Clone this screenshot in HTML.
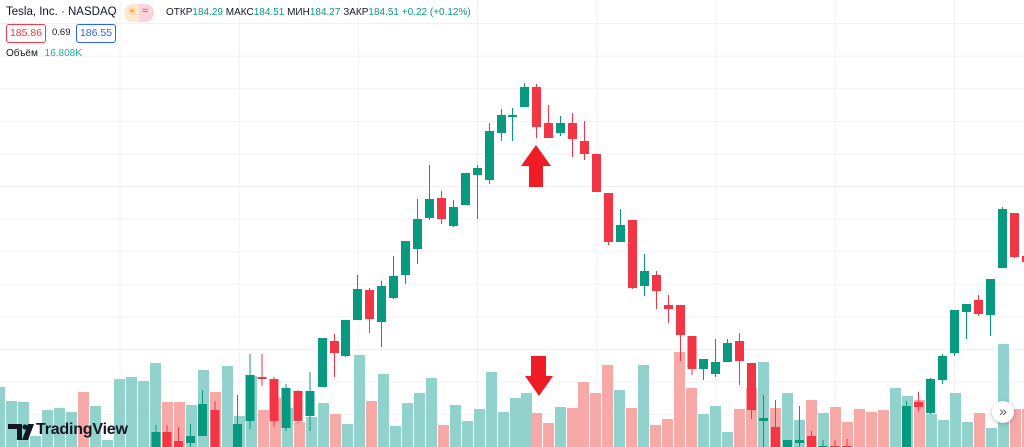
<!DOCTYPE html>
<html><head><meta charset="utf-8"><style>
html,body{margin:0;padding:0;background:#fff;width:1024px;height:447px;overflow:hidden;font-family:"Liberation Sans",sans-serif;}
#wrap{position:relative;width:1024px;height:447px;}
svg{position:absolute;left:0;top:0;}
.t{position:absolute;white-space:nowrap;}
</style></head><body><div id="wrap">
<svg id="c" width="1024" height="447" xmlns="http://www.w3.org/2000/svg"></svg>
<div class="t" style="left:6px;top:6px;font-size:11.5px;color:#131722;">Tesla, Inc. · NASDAQ</div>
<div class="t" style="left:124px;top:4px;width:30px;height:18px;border-radius:9px;background:#fde8d2;overflow:hidden;">
 <div style="position:absolute;left:15px;top:0;width:15px;height:18px;background:#fbd3dc;"></div>
 <div style="position:absolute;left:3px;top:1px;font-size:11px;color:#f5a623;">☀</div>
 <div style="position:absolute;left:18px;top:1px;font-size:11px;color:#e0447a;">≈</div>
</div>
<div class="t" style="left:166px;top:7px;font-size:10px;color:#131722;">ОТКР<span style="color:#089981">184.29</span> МАКС<span style="color:#089981">184.51</span> МИН<span style="color:#089981">184.27</span> ЗАКР<span style="color:#089981">184.51</span> <span style="color:#089981">+0.22 (+0.12%)</span></div>
<div class="t" style="left:6px;top:24px;width:38px;height:17px;border:1px solid #f23645;border-radius:3px;color:#f23645;font-size:10.5px;line-height:17px;text-align:center;">185.86</div>
<div class="t" style="left:52px;top:27px;font-size:9.5px;color:#131722;">0.69</div>
<div class="t" style="left:76px;top:24px;width:38px;height:17px;border:1px solid #2962ff;border-radius:3px;color:#2962ff;font-size:10.5px;line-height:17px;text-align:center;">186.55</div>
<div class="t" style="left:6px;top:48px;font-size:10px;color:#131722;">Объём <span style="color:#22ab94;margin-left:4px">16.808K</span></div>
<div class="t" style="left:36px;top:421px;font-size:16px;font-weight:bold;color:#131722;letter-spacing:-0.2px;">TradingView</div>
<div class="t" style="left:992px;top:401px;width:22px;height:22px;border-radius:11px;background:#fff;box-shadow:0 1px 4px rgba(0,0,0,0.25);font-size:14px;line-height:20px;text-align:center;color:#555;">»</div>
</div>
<script>
var s='';
for(var y=23.5;y<447;y+=32.6)s+='<line x1="0" x2="1024" y1="'+y.toFixed(1)+'" y2="'+y.toFixed(1)+'" stroke="#f0f1f3" stroke-width="1"/>';
for(var x=120;x<1024;x+=119.2)s+='<line y1="0" y2="447" x1="'+x.toFixed(1)+'" x2="'+x.toFixed(1)+'" stroke="#f0f1f3" stroke-width="1"/>';
var V=[[-6,387,'g'],[6,401,'g'],[18,402,'g'],[30,436,'g'],[42,410,'g'],[54,408,'g'],[66,412,'g'],[78,392,'r'],[90,406,'g'],[102,440,'g'],[114,379,'g'],[126,377,'g'],[138,381,'g'],[150,363,'g'],[162,402,'r'],[174,402,'r'],[186,405,'g'],[198,370,'g'],[210,392,'r'],[222,366,'g'],[234,416,'g'],[246,376,'g'],[258,410,'r'],[270,398,'r'],[282,408,'g'],[294,422,'r'],[306,417,'g'],[318,403,'g'],[330,414,'r'],[342,424,'g'],[354,355,'g'],[366,401,'r'],[378,374,'g'],[390,426,'g'],[402,403,'g'],[414,393,'g'],[426,378,'g'],[438,425,'r'],[450,405,'g'],[462,421,'g'],[474,409,'g'],[486,372,'g'],[498,412,'g'],[510,398,'g'],[521,393,'g'],[531,413,'r'],[543,423,'r'],[555,407,'g'],[567,408,'r'],[578,382,'r'],[590,393,'r'],[602,365,'r'],[614,390,'g'],[626,408,'r'],[638,365,'g'],[650,425,'r'],[662,419,'r'],[674,352,'r'],[686,388,'r'],[698,414,'g'],[710,406,'g'],[722,432,'g'],[734,409,'r'],[746,388,'r'],[758,362,'g'],[770,408,'r'],[782,393,'g'],[794,420,'g'],[806,400,'r'],[818,413,'g'],[830,407,'r'],[842,422,'r'],[854,409,'r'],[866,412,'r'],[878,410,'r'],[890,388,'g'],[902,396,'g'],[914,400,'r'],[926,414,'g'],[938,420,'g'],[950,393,'g'],[962,422,'g'],[974,413,'r'],[986,428,'g'],[998,344,'g'],[1010,409,'r'],[1022,409,'r']];
V.forEach(function(v){s+='<rect x="'+v[0]+'" y="'+v[1]+'" width="11" height="'+(447-v[1])+'" fill="'+(v[2]=='g'?'#92d2cc':'#f7a9a7')+'"/>';});
var C=[[156,432,447,425,447,'g'],[167,432,447,425,447,'r'],[178.5,441,447,427,447,'r'],[190.5,436,443,424,447,'g'],[202.5,404,436,390,436,'g'],[215,410,447,401,447,'r'],[237.5,424,447,395,447,'g'],[250,375,421,354,429,'g'],[262,377,379,354,386,'r'],[274,379,421,377,427,'r'],[286,388,428,384,431,'g'],[298,391,421,390,423,'r'],[310,391,416,372,431,'g'],[322.5,338,387,338,387,'g'],[334.5,341,353,334,377,'r'],[345.5,320,356,320,357,'g'],[357.5,289,320,275,320,'g'],[369.5,290,319,288,333,'r'],[381.5,286,322,281,347,'g'],[393.5,276,298,256,299,'g'],[405.5,241,275,241,284,'g'],[417.5,219,249,199,264,'g'],[429.5,199,218,165,220,'g'],[441.5,198,219,191,224,'r'],[453.5,207,226,200,227,'g'],[465.5,173,205,173,205,'g'],[477.5,168,175,165,219,'g'],[489.5,131,180,123,184,'g'],[501.5,115,133,109,141,'g'],[512.5,115,117,108,141,'g'],[524.5,87,107,83,107,'g'],[536.5,87,127,84,138,'r'],[548.5,123,138,105,138,'r'],[560.5,123,133,116,136,'g'],[572.5,123,139,113,157,'r'],[584.5,141,154,121,160,'r'],[596.5,154,192,154,192,'r'],[608.5,193,242,193,245,'r'],[620.5,225,242,209,242,'g'],[632.5,220,288,220,289,'r'],[644.5,271,286,254,296,'g'],[656.5,275,291,271,309,'r'],[668.5,305,309,295,323,'r'],[680.5,305,335,305,361,'r'],[692,336,369,336,375,'r'],[703.5,359,369,359,380,'g'],[715.5,362,374,339,377,'g'],[727.5,343,362,339,362,'g'],[739.5,341,361,333,385,'r'],[751.5,363,410,363,419,'r'],[763.5,418,421,395,447,'g'],[775.5,427,447,400,447,'r'],[787.5,440,447,440,447,'g'],[799.5,440,443,406,447,'g'],[811.5,436,447,431,447,'r'],[823,446,447,440,447,'g'],[835,446,447,440,447,'r'],[847,446,447,439,447,'r'],[906.5,406,447,401,447,'g'],[918.5,402,407,392,411,'r'],[930.5,379,413,378,414,'g'],[942.5,356,380,354,384,'g'],[954.5,310,353,310,356,'g'],[966.5,304,312,304,339,'g'],[978.5,300,314,295,316,'r'],[990.5,279,315,279,336,'g'],[1002.5,209,268,207,268,'g'],[1014.5,213,257,213,258,'r'],[1026.5,256,262,256,262,'r']];
C.forEach(function(c){var col=c[5]=='g'?'#089981':'#f23645';
s+='<line x1="'+c[0]+'" x2="'+c[0]+'" y1="'+c[3]+'" y2="'+c[4]+'" stroke="'+col+'" stroke-width="1"/>';
s+='<rect x="'+(c[0]-4.5)+'" y="'+c[1]+'" width="9" height="'+Math.max(2,c[2]-c[1])+'" fill="'+col+'"/>';});
s+='<polygon points="536,145 551,166 543,166 543,187 529,187 529,166 521,166" fill="#ee1c25"/>';
s+='<polygon points="531,356 546,356 546,376 553,376 539,396 525,376 531,376" fill="#ee1c25"/>';
s+='<path d="M8 424 H22 V440 H17 V429 H8 Z" fill="#131722"/><circle cx="25" cy="427" r="2.6" fill="#131722"/><path d="M28 424 H34 L28 440 H22 Z" fill="#131722"/>';
document.getElementById('c').innerHTML=s;
</script>
</body></html>
